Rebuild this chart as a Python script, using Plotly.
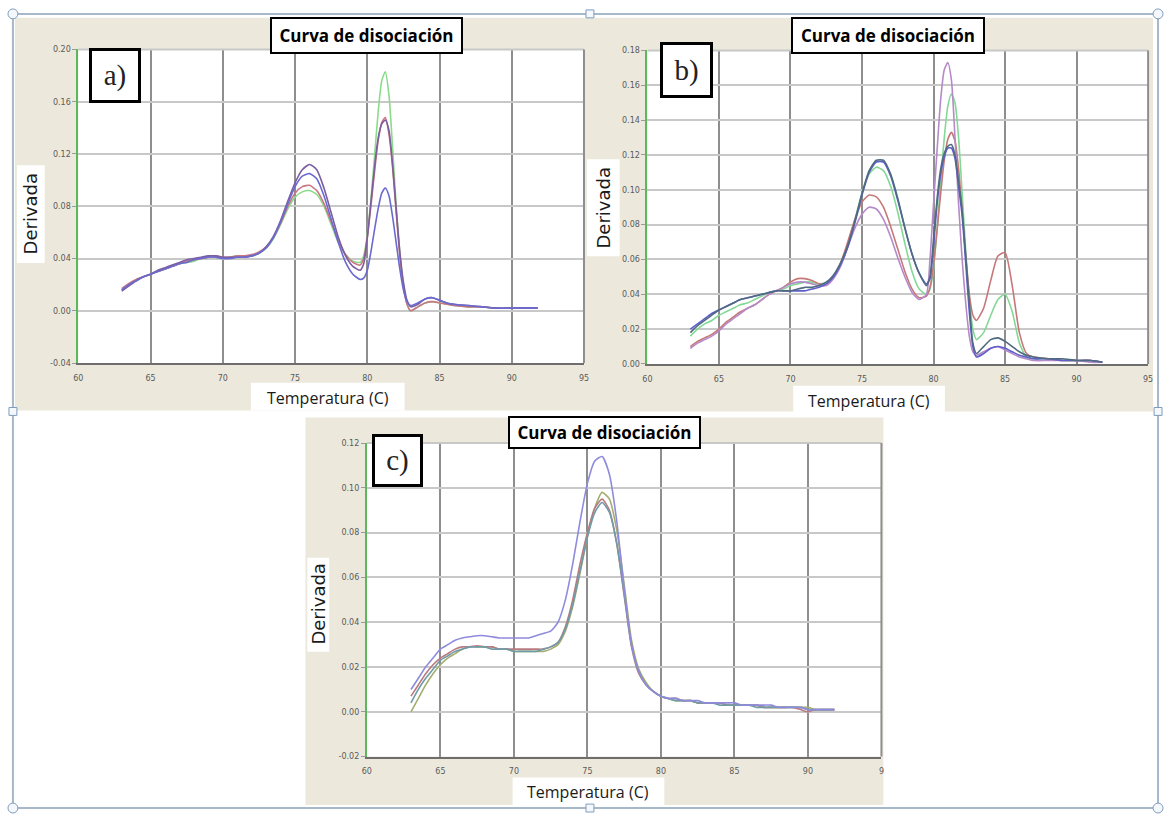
import plotly.graph_objects as go

W, H = 1167, 817

# ---------------- data ----------------
# panel a) temperature (C) and derivative values of the four curves
temp_a = [63.0, 63.5, 64.0, 64.5, 65.0, 65.5, 66.0, 66.5, 67.0, 67.5, 68.0, 68.5, 69.0, 69.5,
          70.0, 70.5, 71.0, 71.5, 72.0, 72.5, 73.0, 73.5, 74.0, 74.5, 75.0, 75.5, 76.0, 76.5,
          77.0, 77.5, 78.0, 78.5, 79.0, 79.5, 79.75, 80.0, 80.25, 80.5, 80.75, 81.0, 81.25,
          81.5, 81.75, 82.0, 82.25, 82.5, 82.75, 83.0, 83.5, 84.0, 84.5, 85.0, 85.5, 86.0,
          87.0, 88.0, 89.0, 90.0, 91.0, 91.8]
a_green = [0.016, 0.020, 0.023, 0.026, 0.028, 0.030, 0.032, 0.034, 0.036, 0.037, 0.038, 0.040, 0.041, 0.041,
           0.040, 0.041, 0.042, 0.042, 0.042, 0.044, 0.048, 0.055, 0.066, 0.078, 0.087, 0.091, 0.092, 0.089,
           0.080, 0.066, 0.052, 0.043, 0.038, 0.037, 0.042, 0.058, 0.085, 0.118, 0.152, 0.176, 0.183,
           0.165, 0.125, 0.080, 0.045, 0.020, 0.005, 0.000, 0.003, 0.006, 0.007, 0.006, 0.005, 0.004,
           0.003, 0.003, 0.002, 0.002, 0.002, 0.002]
a_red = [0.017, 0.021, 0.024, 0.026, 0.028, 0.030, 0.032, 0.034, 0.036, 0.038, 0.039, 0.040, 0.041, 0.042,
         0.041, 0.041, 0.042, 0.042, 0.043, 0.045, 0.049, 0.056, 0.067, 0.080, 0.090, 0.095, 0.096, 0.092,
         0.082, 0.068, 0.054, 0.043, 0.037, 0.035, 0.040, 0.056, 0.080, 0.106, 0.130, 0.144, 0.148,
         0.135, 0.110, 0.075, 0.042, 0.018, 0.005, 0.000, 0.003, 0.006, 0.007, 0.006, 0.005, 0.004,
         0.003, 0.003, 0.002, 0.002, 0.002, 0.002]
a_purple = [0.015, 0.019, 0.023, 0.026, 0.028, 0.031, 0.033, 0.035, 0.037, 0.039, 0.040, 0.041, 0.042, 0.042,
            0.041, 0.041, 0.041, 0.041, 0.042, 0.044, 0.049, 0.057, 0.069, 0.084, 0.098, 0.108, 0.112, 0.108,
            0.094, 0.075, 0.056, 0.042, 0.034, 0.031, 0.036, 0.056, 0.083, 0.110, 0.132, 0.143, 0.146,
            0.138, 0.112, 0.078, 0.045, 0.022, 0.008, 0.003, 0.005, 0.009, 0.010, 0.008, 0.006, 0.005,
            0.004, 0.003, 0.002, 0.002, 0.002, 0.002]
a_blue = [0.016, 0.020, 0.023, 0.026, 0.028, 0.030, 0.032, 0.034, 0.036, 0.037, 0.039, 0.040, 0.041, 0.041,
          0.040, 0.040, 0.041, 0.041, 0.042, 0.044, 0.048, 0.056, 0.068, 0.082, 0.095, 0.103, 0.105, 0.101,
          0.088, 0.070, 0.052, 0.037, 0.028, 0.024, 0.025, 0.031, 0.045, 0.062, 0.078, 0.090, 0.094,
          0.088, 0.072, 0.052, 0.032, 0.016, 0.007, 0.004, 0.006, 0.009, 0.010, 0.008, 0.006, 0.005,
          0.004, 0.003, 0.002, 0.002, 0.002, 0.002]

# panel b) five curves
temp_b = [63.0, 63.5, 64.0, 64.5, 65.0, 65.5, 66.0, 66.5, 67.0, 67.5, 68.0, 68.5, 69.0, 69.5,
          70.0, 70.5, 71.0, 71.5, 72.0, 72.5, 73.0, 73.5, 74.0, 74.5, 75.0, 75.5, 76.0, 76.5,
          77.0, 77.5, 78.0, 78.5, 79.0, 79.5, 79.75, 80.0, 80.25, 80.5, 80.75, 81.0, 81.25,
          81.5, 81.75, 82.0, 82.25, 82.5, 82.75, 83.0, 83.5, 84.0, 84.5, 85.0, 85.5, 86.0,
          86.5, 87.0, 88.0, 89.0, 90.0, 91.0, 91.8]
b_slate = [0.018, 0.022, 0.025, 0.028, 0.031, 0.033, 0.035, 0.037, 0.038, 0.039, 0.040, 0.041, 0.042, 0.042,
           0.042, 0.043, 0.044, 0.044, 0.045, 0.047, 0.051, 0.058, 0.068, 0.082, 0.098, 0.111, 0.117, 0.117,
           0.109, 0.095, 0.078, 0.063, 0.052, 0.045, 0.050, 0.072, 0.095, 0.112, 0.121, 0.125, 0.126,
           0.120, 0.105, 0.088, 0.062, 0.035, 0.012, 0.006, 0.010, 0.014, 0.015, 0.013, 0.010, 0.007,
           0.005, 0.004, 0.003, 0.003, 0.002, 0.002, 0.001]
b_blue = [0.020, 0.023, 0.026, 0.029, 0.031, 0.033, 0.035, 0.037, 0.038, 0.039, 0.040, 0.041, 0.042, 0.042,
          0.042, 0.042, 0.042, 0.043, 0.044, 0.046, 0.050, 0.057, 0.067, 0.081, 0.097, 0.110, 0.116, 0.116,
          0.108, 0.094, 0.078, 0.063, 0.052, 0.046, 0.049, 0.068, 0.092, 0.109, 0.119, 0.124, 0.124,
          0.118, 0.102, 0.085, 0.058, 0.030, 0.010, 0.004, 0.006, 0.009, 0.010, 0.009, 0.007, 0.005,
          0.004, 0.003, 0.003, 0.002, 0.002, 0.002, 0.001]
b_green = [0.016, 0.020, 0.023, 0.025, 0.028, 0.030, 0.032, 0.034, 0.035, 0.037, 0.039, 0.041, 0.042, 0.043,
           0.045, 0.046, 0.047, 0.047, 0.046, 0.047, 0.050, 0.057, 0.068, 0.083, 0.098, 0.109, 0.113, 0.111,
           0.102, 0.087, 0.069, 0.053, 0.043, 0.040, 0.043, 0.055, 0.078, 0.105, 0.130, 0.148, 0.155,
           0.150, 0.130, 0.098, 0.065, 0.038, 0.020, 0.014, 0.018, 0.028, 0.037, 0.040, 0.030, 0.012,
           0.004, 0.003, 0.003, 0.002, 0.002, 0.002, 0.001]
b_red = [0.010, 0.013, 0.015, 0.017, 0.020, 0.024, 0.027, 0.030, 0.032, 0.034, 0.037, 0.040, 0.042, 0.044,
         0.047, 0.049, 0.049, 0.048, 0.046, 0.046, 0.050, 0.058, 0.070, 0.083, 0.093, 0.097, 0.096, 0.090,
         0.079, 0.066, 0.053, 0.043, 0.038, 0.039, 0.044, 0.057, 0.077, 0.098, 0.117, 0.129, 0.133,
         0.128, 0.112, 0.088, 0.062, 0.040, 0.028, 0.025, 0.032, 0.048, 0.062, 0.064, 0.045, 0.018,
         0.006, 0.004, 0.003, 0.002, 0.002, 0.002, 0.001]
b_violet = [0.009, 0.012, 0.014, 0.016, 0.019, 0.023, 0.026, 0.029, 0.032, 0.034, 0.037, 0.040, 0.042, 0.044,
            0.046, 0.047, 0.047, 0.046, 0.045, 0.045, 0.049, 0.056, 0.067, 0.078, 0.086, 0.090, 0.089, 0.083,
            0.073, 0.061, 0.050, 0.041, 0.037, 0.040, 0.060, 0.092, 0.123, 0.152, 0.169, 0.173, 0.163,
            0.130, 0.092, 0.060, 0.035, 0.016, 0.007, 0.005, 0.007, 0.009, 0.010, 0.008, 0.006, 0.004,
            0.003, 0.002, 0.002, 0.002, 0.002, 0.001, 0.001]

# panel c) four curves
temp_c = [63.0, 63.5, 64.0, 64.5, 65.0, 65.5, 66.0, 66.5, 67.0, 67.5, 68.0, 68.5, 69.0, 69.5,
          70.0, 70.5, 71.0, 71.5, 72.0, 72.5, 73.0, 73.5, 74.0, 74.5, 75.0, 75.5, 76.0, 76.5,
          77.0, 77.5, 78.0, 78.5, 79.0, 79.5, 80.0, 80.5, 81.0, 81.5, 82.0, 82.5, 83.0, 83.5,
          84.0, 84.5, 85.0, 85.5, 86.0, 86.5, 87.0, 87.5, 88.0, 88.5, 89.0, 89.5, 90.0, 90.5,
          91.0, 91.5, 91.8]
c_lavender = [0.010, 0.015, 0.020, 0.024, 0.028, 0.030, 0.032, 0.033, 0.0335, 0.034, 0.034, 0.0335, 0.033, 0.033,
              0.033, 0.033, 0.033, 0.034, 0.035, 0.036, 0.040, 0.050, 0.066, 0.085, 0.102, 0.112, 0.114, 0.106,
              0.085, 0.055, 0.030, 0.018, 0.012, 0.009, 0.007, 0.006, 0.006, 0.005, 0.005, 0.005, 0.004, 0.004,
              0.004, 0.004, 0.004, 0.003, 0.003, 0.003, 0.003, 0.003, 0.002, 0.002, 0.002, 0.002, 0.001, 0.001,
              0.001, 0.001, 0.001]
c_rose = [0.007, 0.012, 0.017, 0.021, 0.024, 0.026, 0.028, 0.029, 0.029, 0.0295, 0.029, 0.029, 0.028, 0.028,
          0.028, 0.028, 0.028, 0.028, 0.028, 0.029, 0.031, 0.038, 0.050, 0.066, 0.080, 0.091, 0.095, 0.090,
          0.075, 0.052, 0.029, 0.017, 0.012, 0.009, 0.007, 0.006, 0.006, 0.005, 0.005, 0.004, 0.004, 0.004,
          0.004, 0.003, 0.003, 0.003, 0.003, 0.003, 0.002, 0.002, 0.002, 0.002, 0.002, 0.001, 0.000, 0.001,
          0.001, 0.001, 0.001]
c_olive = [0.000, 0.006, 0.012, 0.017, 0.021, 0.024, 0.026, 0.028, 0.029, 0.029, 0.029, 0.029, 0.028, 0.028,
           0.027, 0.027, 0.027, 0.027, 0.027, 0.028, 0.030, 0.036, 0.047, 0.062, 0.078, 0.091, 0.098, 0.095,
           0.081, 0.057, 0.032, 0.019, 0.013, 0.009, 0.007, 0.006, 0.005, 0.005, 0.005, 0.004, 0.004, 0.004,
           0.004, 0.003, 0.003, 0.003, 0.003, 0.003, 0.002, 0.002, 0.002, 0.002, 0.002, 0.002, 0.002, 0.001,
           0.001, 0.001, 0.001]
c_teal = [0.004, 0.010, 0.015, 0.019, 0.023, 0.025, 0.027, 0.028, 0.029, 0.029, 0.029, 0.028, 0.028, 0.028,
          0.027, 0.027, 0.027, 0.027, 0.028, 0.029, 0.031, 0.037, 0.048, 0.063, 0.078, 0.089, 0.0935, 0.089,
          0.075, 0.053, 0.030, 0.018, 0.012, 0.009, 0.007, 0.006, 0.005, 0.005, 0.005, 0.004, 0.004, 0.004,
          0.003, 0.003, 0.003, 0.003, 0.003, 0.002, 0.002, 0.002, 0.002, 0.002, 0.002, 0.002, 0.001, 0.001,
          0.001, 0.001, 0.001]

x_ticks = [60, 65, 70, 75, 80, 85, 90, 95]
x_labels = ["60", "65", "70", "75", "80", "85", "90", "95"]
x_labels_c = ["60", "65", "70", "75", "80", "85", "90", "9"]
y_ticks_a = [-0.04, 0.00, 0.04, 0.08, 0.12, 0.16, 0.20]
y_labels_a = ["-0.04", "0.00", "0.04", "0.08", "0.12", "0.16", "0.20"]
y_ticks_b = [0.00, 0.02, 0.04, 0.06, 0.08, 0.10, 0.12, 0.14, 0.16, 0.18]
y_labels_b = ["0.00", "0.02", "0.04", "0.06", "0.08", "0.10", "0.12", "0.14", "0.16", "0.18"]
y_ticks_c = [-0.02, 0.00, 0.02, 0.04, 0.06, 0.08, 0.10, 0.12]
y_labels_c = ["-0.02", "0.00", "0.02", "0.04", "0.06", "0.08", "0.10", "0.12"]

panel_tags = ["a)", "b)", "c)"]
chart_title = "Curva de disociación"
x_title = "Temperatura (C)"
y_title = "Derivada"

# ---------------- helpers ----------------
def px(x):
    return x / W

def py(y):
    return 1 - y / H

BEIGE = "#ECE9DC"
GRID_V = "#8E8E8E"
GRID_H = "#C8C8C8"

fig = go.Figure()

def add_curves(xs, series, colors, xa, ya):
    for ys, col in zip(series, colors):
        fig.add_trace(go.Scatter(x=xs, y=ys, mode="lines", xaxis=xa, yaxis=ya,
                                 line=dict(color=col, width=1.6, shape="spline", smoothing=0.6),
                                 hoverinfo="skip", showlegend=False))

add_curves(temp_a, [a_green, a_red, a_purple, a_blue],
           ["#8ADB8A", "#C97783", "#7B5DA0", "#6A6AD0"], "x", "y")
add_curves(temp_b, [b_green, b_red, b_violet, b_blue, b_slate],
           ["#84D896", "#C67878", "#B58AC8", "#5F5FCC", "#4F6B80"], "x2", "y2")
add_curves(temp_c, [c_olive, c_rose, c_teal, c_lavender],
           ["#A2AE6E", "#B97A80", "#6F9AA8", "#8F8BDC"], "x3", "y3")

# plot-area rectangles in pixels: (left, top, right, bottom)
areas = {
    "a": (74, 46, 584, 363),
    "b": (648, 47, 1153, 364),
    "c": (365, 444, 884, 761),
}

def xaxis_cfg(area, labels):
    l, t, r, b = area
    return dict(domain=[px(l), px(r)], range=[60, 95], tickvals=x_ticks, ticktext=labels,
                showgrid=True, gridcolor=GRID_V, gridwidth=2, zeroline=False,
                showline=True, linecolor="#6E6E6E", linewidth=2,
                ticks="outside", ticklen=6, tickcolor="rgba(0,0,0,0)",
                tickfont=dict(family="DejaVu Sans", size=8, color="#5A5A5A"), fixedrange=True)

def yaxis_cfg(area, rng, vals, labels, anchor):
    l, t, r, b = area
    return dict(domain=[py(b), py(t)], range=rng, tickvals=vals, ticktext=labels, anchor=anchor,
                showgrid=True, gridcolor=GRID_H, gridwidth=2, zeroline=False,
                showline=True, linecolor="#5DB85D", linewidth=2,
                ticks="outside", ticklen=4, tickcolor="#9A9A9A",
                tickfont=dict(family="DejaVu Sans", size=8, color="#5A5A5A"), fixedrange=True)

fig.update_layout(
    xaxis=dict(xaxis_cfg(areas["a"], x_labels), anchor="y"),
    yaxis=yaxis_cfg(areas["a"], [-0.04, 0.20], y_ticks_a, y_labels_a, "x"),
    xaxis2=dict(xaxis_cfg(areas["b"], x_labels), anchor="y2"),
    yaxis2=yaxis_cfg(areas["b"], [0.0, 0.18], y_ticks_b, y_labels_b, "x2"),
    xaxis3=dict(xaxis_cfg(areas["c"], x_labels_c), anchor="y3"),
    yaxis3=yaxis_cfg(areas["c"], [-0.02, 0.12], y_ticks_c, y_labels_c, "x3"),
)

shapes = []

def rect(l, t, r, b, fill, line_color=None, lw=0, layer="below"):
    shapes.append(dict(type="rect", xref="paper", yref="paper",
                       x0=px(l), x1=px(r), y0=py(b), y1=py(t),
                       fillcolor=fill, layer=layer,
                       line=dict(color=line_color or "rgba(0,0,0,0)", width=lw)))

# beige panels
rect(10, 14, 590, 411, BEIGE)
rect(590, 14, 1158, 412, BEIGE)
rect(303, 418, 886, 810, BEIGE)
# white plot areas
for l, t, r, b in areas.values():
    rect(l, t, r, b, "white")
# white boxes behind the axis titles
rect(12, 163, 40, 262, "white")
rect(248, 383, 403, 411, "white")
rect(587, 157, 620, 255, "white")
rect(795, 386, 948, 414, "white")
rect(305, 560, 327, 655, "white")
rect(512, 782, 665, 810, "white")

# top and right edges of each plot area
for ax in ["", "2", "3"]:
    shapes.append(dict(type="line", xref=f"x{ax} domain", yref=f"y{ax} domain",
                       x0=0, x1=1, y0=1, y1=1, line=dict(color=GRID_H, width=2), layer="above"))
    shapes.append(dict(type="line", xref=f"x{ax} domain", yref=f"y{ax} domain",
                       x0=1, x1=1, y0=0, y1=1, line=dict(color=GRID_V, width=2), layer="above"))

# outer selection frame with its handles
FRAME = "#A7B8CB"
shapes.append(dict(type="rect", xref="paper", yref="paper", x0=px(8), x1=px(1163),
                   y0=py(813), y1=py(10), line=dict(color=FRAME, width=2),
                   fillcolor="rgba(0,0,0,0)", layer="above"))
for hx, hy in [(590, 10), (8, 412), (1163, 412), (590, 813)]:
    shapes.append(dict(type="rect", xref="paper", yref="paper",
                       x0=px(hx - 4), x1=px(hx + 4), y0=py(hy + 4), y1=py(hy - 4),
                       line=dict(color="#7F9DBE", width=1), fillcolor="#F4F7FB", layer="above"))
for hx, hy in [(8, 10), (1163, 10), (8, 813), (1163, 813)]:
    shapes.append(dict(type="circle", xref="paper", yref="paper",
                       x0=px(hx - 5), x1=px(hx + 5), y0=py(hy + 5), y1=py(hy - 5),
                       line=dict(color="#7F9DBE", width=1), fillcolor="#F4F7FB", layer="above"))

annotations = []

def boxed(text, cx, cy, w, h, font, bw):
    annotations.append(dict(text=text, x=px(cx), y=py(cy), xref="paper", yref="paper",
                            xanchor="center", yanchor="middle", showarrow=False,
                            width=w, height=h, bgcolor="white", bordercolor="black",
                            borderwidth=bw, borderpad=0, font=font, align="center", valign="middle"))

title_font = dict(family="Open Sans", size=17, color="black")
tag_font = dict(family="Liberation Serif", size=29, color="#222222")
# chart titles
boxed(f"<b>{chart_title}</b>", 365, 32, 189, 33, title_font, 2)
boxed(f"<b>{chart_title}</b>", 891, 32, 190, 33, title_font, 2)
boxed(f"<b>{chart_title}</b>", 605, 433, 189, 29, title_font, 2)
# panel tags
boxed(panel_tags[0], 111, 72, 46, 49, tag_font, 3)
boxed(panel_tags[1], 687, 67, 47, 50, tag_font, 3)
boxed(panel_tags[2], 396, 462, 45, 47, tag_font, 3)

axis_font = dict(family="Open Sans", size=16, color="#1A1A1A")
for cx, cy in [(326, 398), (871, 401), (588, 797)]:
    annotations.append(dict(text=x_title, x=px(cx), y=py(cy), xref="paper", yref="paper",
                            xanchor="center", yanchor="middle", showarrow=False, font=axis_font))
for cx, cy in [(26, 212), (604, 206), (316, 607)]:
    annotations.append(dict(text=y_title, x=px(cx), y=py(cy), xref="paper", yref="paper",
                            xanchor="center", yanchor="middle", showarrow=False, textangle=-90,
                            font=dict(family="DejaVu Sans", size=18, color="#1A1A1A")))

fig.update_layout(width=W, height=H, margin=dict(l=0, r=0, t=0, b=0),
                  paper_bgcolor="white", plot_bgcolor="rgba(0,0,0,0)",
                  shapes=shapes, annotations=annotations, showlegend=False)

fig.write_html("out.html", config={"displayModeBar": False})
